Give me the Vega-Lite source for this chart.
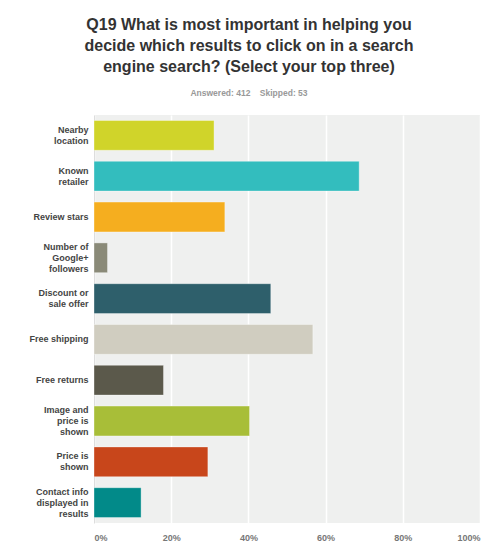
{
  "$schema": "https://vega.github.io/schema/vega-lite/v6.json",
  "width": 386,
  "height": 408,
  "autosize": {"type": "none"},
  "padding": {"left": 94, "top": 115, "right": 15, "bottom": 29},
  "background": "white",
  "title": {
    "text": ["Q19 What is most important in helping you", "decide which results to click on in a search", "engine search? (Select your top three)"],
    "subtitle": "Answered: 412\u00a0\u00a0\u00a0\u00a0Skipped: 53",
    "font": "Liberation Sans",
    "fontSize": 16,
    "fontWeight": "bold",
    "color": "#333333",
    "lineHeight": 21,
    "subtitleFont": "Liberation Sans",
    "subtitleFontSize": 8.5,
    "subtitleFontWeight": "bold",
    "subtitleColor": "#999999",
    "subtitlePadding": 14,
    "anchor": "middle",
    "dx": -38,
    "offset": 18
  },
  "data": {
    "values": [
      {"answer": "Nearby|location", "pct": 31.1, "color": "#d0d42a"},
      {"answer": "Known|retailer", "pct": 68.7, "color": "#33bdbe"},
      {"answer": "Review stars", "pct": 33.9, "color": "#f5ae1f"},
      {"answer": "Number of|Google+|followers", "pct": 3.5, "color": "#8a8a78"},
      {"answer": "Discount or|sale offer", "pct": 45.8, "color": "#2e5f6b"},
      {"answer": "Free shipping", "pct": 56.7, "color": "#d0cdc0"},
      {"answer": "Free returns", "pct": 18.0, "color": "#5b594b"},
      {"answer": "Image and|price is|shown", "pct": 40.3, "color": "#a8be38"},
      {"answer": "Price is|shown", "pct": 29.5, "color": "#c8461b"},
      {"answer": "Contact info|displayed in|results", "pct": 12.2, "color": "#028a89"}
    ]
  },
  "mark": {"type": "bar", "stroke": "white", "strokeOpacity": 0.35, "strokeWidth": 1},
  "encoding": {
    "y": {
      "field": "answer",
      "type": "nominal",
      "sort": null,
      "scale": {"paddingInner": 0.27, "paddingOuter": 0.135},
      "axis": {
        "title": null,
        "labelExpr": "split(datum.label, '|')",
        "labelFont": "Liberation Sans",
        "labelFontSize": 9,
        "labelFontWeight": "bold",
        "labelColor": "#444444",
        "labelLineHeight": 11,
        "labelPadding": 6,
        "ticks": false,
        "domain": true,
        "domainColor": "#dddddd",
        "labelLimit": 200,
        "labelOffset": {
          "condition": [
            {"test": "length(split(datum.value, '|')) == 3", "value": -11},
            {"test": "length(split(datum.value, '|')) == 2", "value": -5.5}
          ],
          "value": 0
        }
      }
    },
    "x": {
      "field": "pct",
      "type": "quantitative",
      "scale": {"domain": [0, 100]},
      "axis": {
        "title": null,
        "values": [0, 20, 40, 60, 80, 100],
        "labelExpr": "datum.value + '%'",
        "labelFlush": true,
        "labelFont": "Liberation Sans",
        "labelFontSize": 9,
        "labelFontWeight": "bold",
        "labelColor": "#777777",
        "labelPadding": 10,
        "ticks": false,
        "domain": false,
        "grid": true,
        "gridColor": "white",
        "gridWidth": 1.5
      }
    },
    "color": {"field": "color", "type": "nominal", "scale": null, "legend": null}
  },
  "config": {
    "view": {"fill": "#eff0ef", "stroke": null},
    "axisY": {"grid": false}
  }
}
